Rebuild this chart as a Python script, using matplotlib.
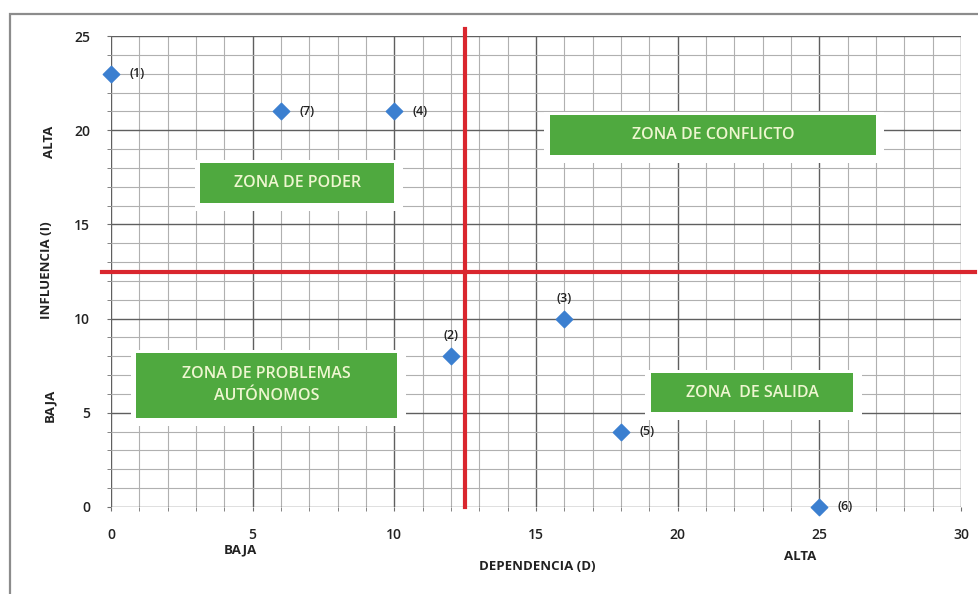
import matplotlib.pyplot as plt
from matplotlib.patches import Rectangle
from matplotlib.ticker import MultipleLocator

# datos
dependencia = [0, 12, 16, 10, 18, 25, 6]
influencia = [23, 8, 10, 21, 4, 0, 21]
etiquetas = ["(1)", "(2)", "(3)", "(4)", "(5)", "(6)", "(7)"]
corte_x = 12.5
corte_y = 12.5

zonas = ["ZONA DE PODER", "ZONA DE CONFLICTO", "ZONA DE PROBLEMAS\nAUTÓNOMOS", "ZONA  DE SALIDA"]

# colores
azul = "#3b7fd0"
rojo = "#d9262e"
verde = "#4fa93f"
texto_verde = "#eef6d0"
fuente = "Open Sans"

fig = plt.figure(figsize=(9.79, 5.94), dpi=100)
ax = fig.add_axes([111 / 979, 1 - 507 / 594, 850 / 979, 471 / 594])

# marco exterior
fig.patches.append(Rectangle((10 / 979, -0.05), 1.2, 1 - 14 / 594 + 0.05,
                             transform=fig.transFigure, fill=False,
                             edgecolor="#8c8c8c", linewidth=1.6))

ax.set_xlim(0, 30)
ax.set_ylim(0, 25)
ax.xaxis.set_major_locator(MultipleLocator(5))
ax.yaxis.set_major_locator(MultipleLocator(5))
ax.xaxis.set_minor_locator(MultipleLocator(1))
ax.yaxis.set_minor_locator(MultipleLocator(1))
ax.grid(which="major", color="#5f5f5f", linewidth=1.0)
ax.grid(which="minor", color="#b0b0b0", linewidth=0.8)
ax.set_axisbelow(True)
for s in ax.spines.values():
    s.set_visible(False)
ax.tick_params(which="both", length=3, color="#6f6f6f", labelsize=10,
               labelcolor="#222222", pad=12)
for lab in ax.get_xticklabels() + ax.get_yticklabels():
    lab.set_fontfamily(fuente)
    lab.set_fontweight("semibold")

# lineas de corte
ax.plot([corte_x, corte_x], [0, 25.35], color=rojo, linewidth=3, clip_on=False, zorder=3)
ax.plot([-0.3, 30.5], [corte_y, corte_y], color=rojo, linewidth=3, clip_on=False, zorder=3)

# puntos
ax.scatter(dependencia, influencia, marker="D", s=70, color=azul, zorder=5, clip_on=False)
for x, y, t in zip(dependencia, influencia, etiquetas):
    if t in ("(2)", "(3)"):
        ax.annotate(t, (x, y), xytext=(0, 10), textcoords="offset points",
                    ha="center", va="bottom", fontsize=9, color="#222222",
                    family=fuente, fontweight="semibold")
    else:
        ax.annotate(t, (x, y), xytext=(13, 0), textcoords="offset points",
                    ha="left", va="center", fontsize=9, color="#222222",
                    family=fuente, fontweight="semibold")

# cajas de zonas (x0, y0, ancho, alto en datos)
cajas = [(3.15, 16.15, 6.85, 2.1), (15.5, 18.7, 11.5, 2.1),
         (0.9, 4.75, 9.2, 3.45), (19.05, 5.05, 7.15, 2.05)]
for (x0, y0, w, h), z in zip(cajas, zonas):
    ax.add_patch(Rectangle((x0 - 0.2, y0 - 0.45), w + 0.5, h + 0.6,
                           facecolor="white", edgecolor="none", zorder=4))
    ax.add_patch(Rectangle((x0, y0), w, h, facecolor=verde, edgecolor="none", zorder=4))
    ax.text(x0 + w / 2, y0 + h / 2, z, ha="center", va="center", fontsize=11.5,
            color=texto_verde, family=fuente, fontweight="semibold",
            linespacing=1.45, zorder=6)

# titulos de ejes
estilo = dict(ha="center", va="center", fontsize=9.5, fontweight="bold",
              family=fuente, color="#222222")
fig.text(537 / 979, 1 - 566 / 594, "DEPENDENCIA (D)", **estilo)
fig.text(240 / 979, 1 - 550 / 594, "BAJA", **estilo)
fig.text(800 / 979, 1 - 556 / 594, "ALTA", **estilo)
fig.text(47 / 979, 1 - 270 / 594, "INFLUENCIA (I)", rotation=90, **estilo)
fig.text(50 / 979, 1 - 142 / 594, "ALTA", rotation=90, **estilo)
fig.text(50 / 979, 1 - 405 / 594, "BAJA", rotation=90, **estilo)

fig.savefig("out.png", dpi=100, facecolor="white")
